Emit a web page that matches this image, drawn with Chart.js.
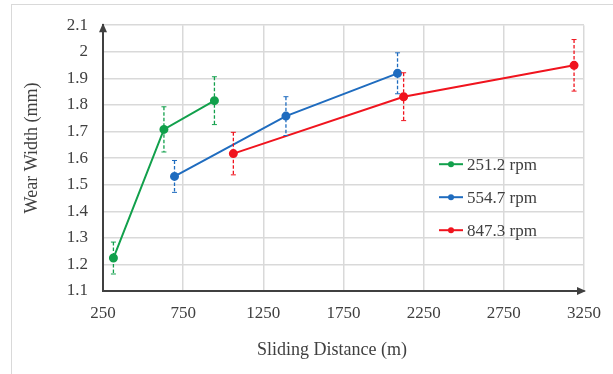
<!DOCTYPE html>
<html>
<head>
<meta charset="utf-8">
<script src="https://cdn.jsdelivr.net/npm/chart.js@4"></script>
<style>
  html, body { margin: 0; padding: 0; background: #fff; overflow: hidden; }
  #wrap { position: relative; width: 613px; height: 374px; }
  #frame { position: absolute; left: 11px; top: 4px; width: 700px; height: 500px; border: 1px solid #d9d9d9; }
  #chart { position: absolute; left: 0; top: 0; }
</style>
</head>
<body>
<div id="wrap">
  <div id="frame"></div>
  <canvas id="chart" width="613" height="374"></canvas>
</div>
<script>
// sliding distance (m), wear width (mm) and error (+/- mm) per speed
var rpmLabels = ['251.2 rpm', '554.7 rpm', '847.3 rpm'];
var distance251 = [315, 630, 945];
var width251 = [1.224, 1.708, 1.816];
var err251 = [0.06, 0.085, 0.09];
var distance554 = [696, 1391, 2087];
var width554 = [1.531, 1.758, 1.919];
var err554 = [0.06, 0.073, 0.077];
var distance847 = [1063, 2125, 3188];
var width847 = [1.617, 1.831, 1.949];
var err847 = [0.08, 0.09, 0.097];

var xTicks = [250, 750, 1250, 1750, 2250, 2750, 3250];
var yTicks = [1.1, 1.2, 1.3, 1.4, 1.5, 1.6, 1.7, 1.8, 1.9, 2.0, 2.1];

var colors = ['#12a04c', '#1f6cbf', '#f0141e'];
var textColor = '#404040';
var serif = "'Liberation Serif', 'Times New Roman', serif";

function points(xs, ys) {
  return xs.map(function (x, i) { return { x: x, y: ys[i] }; });
}

function makeSet(i, xs, ys, errs) {
  return {
    label: rpmLabels[i],
    data: points(xs, ys),
    errors: errs,
    borderColor: colors[i],
    backgroundColor: colors[i],
    borderWidth: 2,
    pointRadius: 3.5,
    pointHoverRadius: 3.5,
    tension: 0
  };
}

// dashed vertical error bars with small caps
var errorBars = {
  id: 'errorBars',
  afterDatasetsDraw: function (chart) {
    var ctx = chart.ctx;
    var yScale = chart.scales.y;
    chart.data.datasets.forEach(function (ds, di) {
      var meta = chart.getDatasetMeta(di);
      ctx.save();
      ctx.strokeStyle = ds.borderColor;
      meta.data.forEach(function (pt, i) {
        var v = ds.data[i].y;
        var top = yScale.getPixelForValue(v + ds.errors[i]);
        var bot = yScale.getPixelForValue(v - ds.errors[i]);
        ctx.lineWidth = 1.3;
        ctx.setLineDash([3.5, 2]);
        ctx.beginPath();
        ctx.moveTo(pt.x, top);
        ctx.lineTo(pt.x, bot);
        ctx.stroke();
        ctx.setLineDash([]);
        ctx.lineWidth = 1;
        ctx.beginPath();
        ctx.moveTo(pt.x - 2.5, top);
        ctx.lineTo(pt.x + 2.5, top);
        ctx.moveTo(pt.x - 2.5, bot);
        ctx.lineTo(pt.x + 2.5, bot);
        ctx.stroke();
      });
      ctx.restore();
    });
  }
};

// arrows, axis titles and the inside legend
var decorations = {
  id: 'decorations',
  afterDraw: function (chart) {
    var ctx = chart.ctx;
    var a = chart.chartArea;
    ctx.save();
    ctx.fillStyle = textColor;
    ctx.beginPath();
    ctx.moveTo(a.left, a.top - 2);
    ctx.lineTo(a.left - 4, a.top + 7);
    ctx.lineTo(a.left + 4, a.top + 7);
    ctx.fill();
    ctx.beginPath();
    ctx.moveTo(a.right + 2, a.bottom);
    ctx.lineTo(a.right - 7, a.bottom - 4);
    ctx.lineTo(a.right - 7, a.bottom + 4);
    ctx.fill();

    ctx.font = '18px ' + serif;
    ctx.textAlign = 'center';
    ctx.textBaseline = 'middle';
    ctx.fillText('Sliding Distance (m)', 332, 350);
    ctx.save();
    ctx.translate(32, 148);
    ctx.rotate(-Math.PI / 2);
    ctx.fillText('Wear Width (mm)', 0, 0);
    ctx.restore();

    ctx.font = '17px ' + serif;
    ctx.textAlign = 'left';
    chart.data.datasets.forEach(function (ds, i) {
      var y = a.top + 139 + i * 33;
      var x0 = a.left + 336;
      ctx.strokeStyle = ds.borderColor;
      ctx.fillStyle = ds.borderColor;
      ctx.lineWidth = 2;
      ctx.beginPath();
      ctx.moveTo(x0, y);
      ctx.lineTo(x0 + 24, y);
      ctx.stroke();
      ctx.beginPath();
      ctx.arc(x0 + 12, y, 3, 0, Math.PI * 2);
      ctx.fill();
      ctx.fillStyle = textColor;
      ctx.fillText(ds.label, x0 + 28, y + 1);
    });
    ctx.restore();
  }
};

new Chart(document.getElementById('chart'), {
  type: 'line',
  data: {
    datasets: [
      makeSet(0, distance251, width251, err251),
      makeSet(1, distance554, width554, err554),
      makeSet(2, distance847, width847, err847)
    ]
  },
  options: {
    responsive: false,
    animation: false,
    layout: { padding: { top: 24, right: 28, left: 0, bottom: 0 } },
    plugins: {
      legend: { display: false },
      tooltip: { enabled: false }
    },
    scales: {
      x: {
        type: 'linear',
        min: 250,
        max: 3250,
        afterBuildTicks: function (scale) {
          scale.ticks = xTicks.map(function (v) { return { value: v }; });
        },
        afterFit: function (scale) { scale.height = 83; },
        grid: { color: '#d9d9d9', lineWidth: 1.5, drawTicks: false },
        border: { color: textColor, width: 2 },
        ticks: {
          padding: 12,
          color: textColor,
          maxRotation: 0,
          font: { family: serif, size: 17 },
          callback: function (v) { return String(v); }
        }
      },
      y: {
        min: 1.1,
        max: 2.1,
        afterBuildTicks: function (scale) {
          scale.ticks = yTicks.map(function (v) { return { value: v }; });
        },
        afterFit: function (scale) { scale.width = 103; },
        grid: { color: '#d9d9d9', lineWidth: 1.5, drawTicks: false },
        border: { color: textColor, width: 2 },
        ticks: {
          padding: 15,
          color: textColor,
          font: { family: serif, size: 17 },
          callback: function (v) { return String(Number(v.toFixed(1))); }
        }
      }
    }
  },
  plugins: [errorBars, decorations]
});
</script>
</body>
</html>
